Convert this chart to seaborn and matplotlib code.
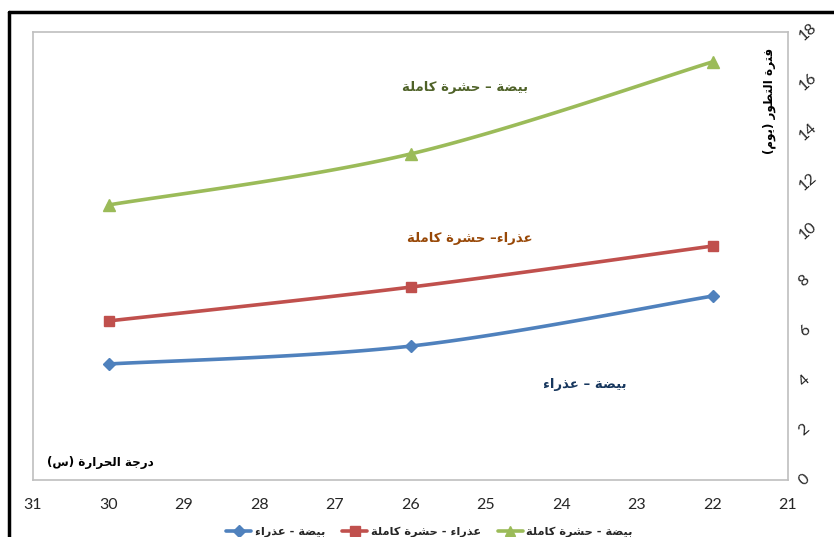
import matplotlib
matplotlib.use("Agg")
import matplotlib.pyplot as plt
from matplotlib.lines import Line2D
import numpy as np
import pandas as pd
import seaborn as sns

# ---- data ----
temperatures = [30, 26, 22]
egg_to_adult = [11.05, 13.1, 16.8]      # بيضة - حشرة كاملة
pupa_to_adult = [6.39, 7.75, 9.4]       # عذراء - حشرة كاملة
egg_to_pupa = [4.66, 5.38, 7.39]        # بيضة - عذراء

x_ticks = list(range(21, 32))
y_ticks = list(range(0, 19, 2))

series_names = ["بيضة - عذراء", "عذراء - حشرة كاملة", "بيضة - حشرة كاملة"]
series_values = [egg_to_pupa, pupa_to_adult, egg_to_adult]
series_colors = ["#4F81BD", "#C0504D", "#9BBB59"]
series_markers = ["D", "s", "^"]
series_msize = [6.5, 7.5, 8.5]

label_egg_adult = "بيضة – حشرة كاملة"
label_pupa_adult = "عذراء– حشرة كاملة"
label_egg_pupa = "بيضة – عذراء"
x_title = "درجة الحرارة (س)"
y_title = "فترة التطور (يوم)"

# ---- Arabic contextual shaping (presentation forms, visual order) ----
FORMS = {
    "ء": ("\uFE80", None, None, None),
    "ا": ("\uFE8D", "\uFE8E", None, None),
    "ب": ("\uFE8F", "\uFE90", "\uFE91", "\uFE92"),
    "ة": ("\uFE93", "\uFE94", None, None),
    "ت": ("\uFE95", "\uFE96", "\uFE97", "\uFE98"),
    "ج": ("\uFE9D", "\uFE9E", "\uFE9F", "\uFEA0"),
    "ح": ("\uFEA1", "\uFEA2", "\uFEA3", "\uFEA4"),
    "د": ("\uFEA9", "\uFEAA", None, None),
    "ذ": ("\uFEAB", "\uFEAC", None, None),
    "ر": ("\uFEAD", "\uFEAE", None, None),
    "س": ("\uFEB1", "\uFEB2", "\uFEB3", "\uFEB4"),
    "ش": ("\uFEB5", "\uFEB6", "\uFEB7", "\uFEB8"),
    "ض": ("\uFEBD", "\uFEBE", "\uFEBF", "\uFEC0"),
    "ط": ("\uFEC1", "\uFEC2", "\uFEC3", "\uFEC4"),
    "ع": ("\uFEC9", "\uFECA", "\uFECB", "\uFECC"),
    "ف": ("\uFED1", "\uFED2", "\uFED3", "\uFED4"),
    "ق": ("\uFED5", "\uFED6", "\uFED7", "\uFED8"),
    "ك": ("\uFED9", "\uFEDA", "\uFEDB", "\uFEDC"),
    "ل": ("\uFEDD", "\uFEDE", "\uFEDF", "\uFEE0"),
    "م": ("\uFEE1", "\uFEE2", "\uFEE3", "\uFEE4"),
    "ن": ("\uFEE5", "\uFEE6", "\uFEE7", "\uFEE8"),
    "و": ("\uFEED", "\uFEEE", None, None),
    "ي": ("\uFEF1", "\uFEF2", "\uFEF3", "\uFEF4"),
}


def ar(text):
    out = []
    n = len(text)
    for i, ch in enumerate(text):
        if ch not in FORMS:
            out.append(ch)
            continue
        iso, fin, ini, med = FORMS[ch]
        prev = text[i - 1] if i > 0 else ""
        nxt = text[i + 1] if i + 1 < n else ""
        jp = fin is not None and prev in FORMS and FORMS[prev][2] is not None
        jn = ini is not None and nxt in FORMS and FORMS[nxt][1] is not None
        if jp and jn:
            out.append(med)
        elif jp:
            out.append(fin)
        elif jn:
            out.append(ini)
        else:
            out.append(iso)
    vis = "".join(reversed(out))
    return vis.translate(str.maketrans("()", ")("))


def smooth(xs, ys, steps=60):
    # Catmull-Rom style Bezier through the points
    p = np.column_stack([xs, ys]).astype(float)
    pts = np.vstack([p[0], p, p[-1]])
    res = []
    for k in range(1, len(pts) - 2):
        p0, p1, p2, p3 = pts[k - 1], pts[k], pts[k + 1], pts[k + 2]
        b1 = p1 + (p2 - p0) / 6.0
        b2 = p2 - (p3 - p1) / 6.0
        t = np.linspace(0, 1, steps)[:, None]
        seg = ((1 - t) ** 3) * p1 + 3 * ((1 - t) ** 2) * t * b1 + 3 * (1 - t) * t ** 2 * b2 + t ** 3 * p2
        res.append(seg if k == 1 else seg[1:])
    r = np.vstack(res)
    return r[:, 0], r[:, 1]


sns.set_theme(style="white")
plt.rcParams["font.family"] = ["Lato", "DejaVu Sans"]

fig = plt.figure(figsize=(8.34, 5.37), dpi=100)
ax = fig.add_axes([33 / 834, 1 - 480 / 537, (788 - 33) / 834, (480 - 32) / 537])

for name, vals, col, mk, ms in zip(series_names, series_values, series_colors, series_markers, series_msize):
    sx, sy = smooth(temperatures, vals)
    sns.lineplot(x=sx, y=sy, ax=ax, color=col, lw=2.6, sort=False, estimator=None)
    df = pd.DataFrame({"t": temperatures, "v": vals})
    ax.plot(df["t"], df["v"], linestyle="none", marker=mk, markersize=ms, color=col, zorder=4)

ax.set_xlim(31, 21)
ax.set_ylim(0, 18)
ax.set_xticks(x_ticks)
ax.set_yticks(y_ticks)
ax.set_xticklabels([str(v) for v in x_ticks], fontsize=11.5, color="#262626")
ax.yaxis.tick_right()
ax.set_yticklabels([str(v) for v in y_ticks], fontsize=11.5, color="#262626", rotation=42,
                   ha="left", va="center")
ax.tick_params(axis="x", length=0, pad=13)
ax.tick_params(axis="y", length=0, pad=6)
ax.set_xlabel("")
ax.set_ylabel("")
for s in ax.spines.values():
    s.set_color("#BFBFBF")
    s.set_linewidth(1.2)
ax.grid(False)

# in-plot labels
arfont = dict(family="DejaVu Sans", fontweight="bold", fontsize=9.5)
titlefont = dict(family="DejaVu Sans", fontweight="bold", fontsize=8.6)
ax.text(25.28, 15.75, ar(label_egg_adult), color="#4F6228", ha="center", va="center", **arfont)
ax.text(25.21, 9.72, ar(label_pupa_adult), color="#984807", ha="center", va="center", **arfont)
ax.text(23.69, 3.82, ar(label_egg_pupa), color="#17375E", ha="center", va="center", **arfont)
ax.text(0.018, 0.04, ar(x_title), transform=ax.transAxes, color="#000000", ha="left", va="center", **titlefont)
ax.text(0.975, 0.965, ar(y_title), transform=ax.transAxes, color="#000000", ha="center", va="top",
        rotation=90, **titlefont)

# legend
handles = [Line2D([0], [0], color=c, lw=2.6, marker=m, markersize=ms * 0.9)
           for c, m, ms in zip(series_colors, series_markers, series_msize)]
fig.legend(handles, [ar(n) for n in series_names], loc="center", bbox_to_anchor=(0.515, 1 - 532 / 537),
           ncol=3, frameon=False, handlelength=2.2, handletextpad=0.3, columnspacing=1.5,
           prop=dict(family="DejaVu Sans", weight="bold", size=8.2))

# outer frame
fig.add_artist(Line2D([9 / 834, 1.0], [1 - 12 / 537, 1 - 12 / 537], color="black", lw=2.5))
fig.add_artist(Line2D([9 / 834, 9 / 834], [0, 1 - 12 / 537], color="black", lw=2.5))

fig.savefig("out.png", dpi=100)
